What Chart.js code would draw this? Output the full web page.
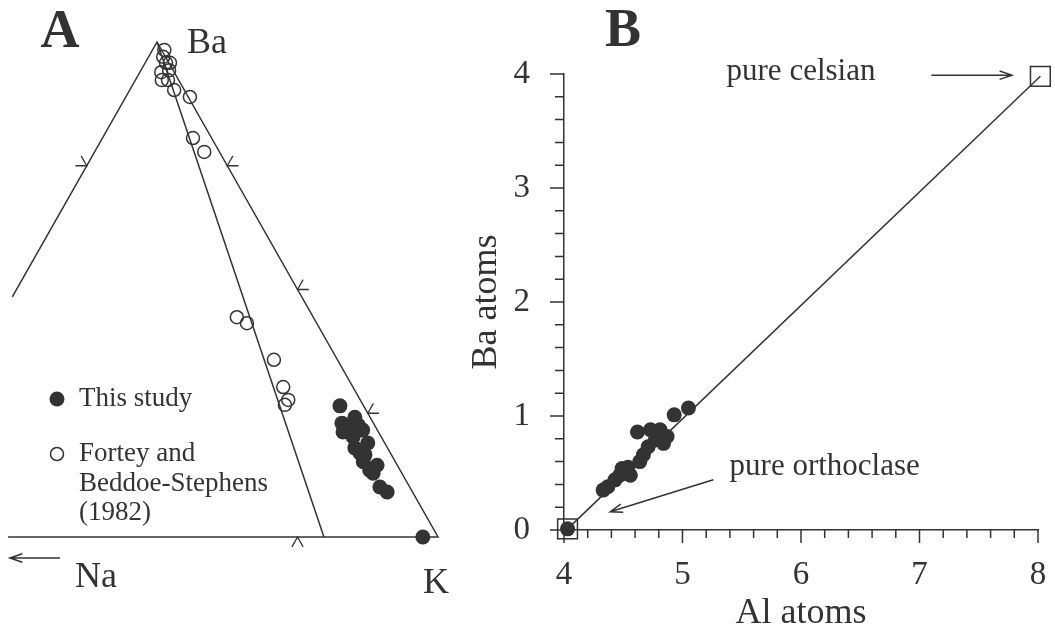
<!DOCTYPE html>
<html>
<head>
<meta charset="utf-8">
<script src="https://cdn.jsdelivr.net/npm/chart.js@4.4.0/dist/chart.umd.min.js"></script>
<style>
  body { margin: 0; background: #fff; }
  #wrap { position: relative; width: 1055px; height: 630px; }
  #canvasA { position: absolute; left: 0; top: 0; }
  #canvasB { position: absolute; left: 460px; top: 0; }
</style>
</head>
<body>
<div id="wrap">
  <canvas id="canvasA" width="460" height="630"></canvas>
  <canvas id="canvasB" width="595" height="630"></canvas>
</div>
<script>
const INK = '#333'
const SERIF = 'Liberation Serif'

// ---- panel A: Ba - Na - K triangle, mole fractions of Ba and K (Na is the rest)
const thisStudyBa = [0.265, 0.242, 0.230, 0.220, 0.216, 0.212, 0.202, 0.190, 0.180, 0.170, 0.152, 0.145, 0.135, 0.129, 0.101, 0.091, 0, 0.226, 0.166]
const thisStudyK  = [0.693, 0.731, 0.714, 0.730, 0.758, 0.725, 0.748, 0.780, 0.762, 0.776, 0.791, 0.819, 0.811, 0.820, 0.846, 0.864, 0.973, 0.745, 0.787]
const forteyBa = [0.984, 0.970, 0.958, 0.943, 0.923, 0.923, 0.903, 0.889, 0.806, 0.778, 0.444, 0.432, 0.358, 0.303, 0.277, 0.267, 0.939, 0.958]
const forteyK  = [0.021, 0.026, 0.037, 0.050, 0.047, 0.058, 0.079, 0.114, 0.161, 0.195, 0.420, 0.444, 0.529, 0.573, 0.595, 0.594, 0.038, 0.044]
// visible part of the triangle outline, and the line from Ba to the base
const outlineBa = [0.485, 1, 0, 0]
const outlineK  = [0, 0, 1, 0.235]
const joinBa = [1, 0]
const joinK  = [0, 0.797]
// tick marks on the edges
const tickBa = [0.75, 0.75, 0.5, 0.25, 0]
const tickK  = [0, 0.25, 0.5, 0.75, 0.75]

// ---- panel B
const alAtoms = [4.03, 4.33, 4.37, 4.43, 4.47, 4.49, 4.54, 4.56, 4.51, 4.64, 4.67, 4.71, 4.62, 4.73, 4.77, 4.81, 4.87, 4.84, 4.93, 5.05]
const baAtoms = [0.01, 0.35, 0.38, 0.44, 0.48, 0.54, 0.55, 0.48, 0.50, 0.60, 0.66, 0.73, 0.86, 0.88, 0.79, 0.88, 0.82, 0.76, 1.01, 1.07]
const endAl = [4.03, 8.02]   // pure orthoclase, pure celsian
const endBa = [0.01, 3.98]
const noteText = ['pure celsian', 'pure orthoclase']
const noteX = [6.0, 6.2]
const noteY = [3.95, 0.48]
const arrowFrom = [[7.1, 3.99], [5.26, 0.44]]
const arrowTo   = [[7.78, 3.99], [4.39, 0.16]]

const SQ = Math.sqrt(3) / 2
const tern = (ba, k) => ({x: k + ba / 2, y: ba * SQ})
const zip = (a, b, f) => a.map((v, i) => f(v, b[i]))

// each tick = two short strokes going out of the triangle, parallel to the other two edges
const TICK = 0.02
let tickPts = []
tickBa.forEach((ba, i) => {
  const c = [ba, tickK[i], 1 - ba - tickK[i]]
  const zero = c.findIndex(v => Math.abs(v) < 1e-9)
  const ends = [0, 1, 2].filter(j => j !== zero).map(j => {
    const e = c.slice()
    e[zero] -= TICK
    e[j] += TICK
    return tern(e[0], e[1])
  })
  tickPts.push(ends[0], tern(c[0], c[1]), ends[1], {x: NaN, y: NaN})
})

function arrow(ctx, x1, y1, x2, y2) {
  const a = Math.atan2(y2 - y1, x2 - x1), h = 13
  ctx.beginPath()
  ctx.moveTo(x1, y1)
  ctx.lineTo(x2, y2)
  ctx.moveTo(x2 - h * Math.cos(a - 0.33), y2 - h * Math.sin(a - 0.33))
  ctx.lineTo(x2, y2)
  ctx.lineTo(x2 - h * Math.cos(a + 0.33), y2 - h * Math.sin(a + 0.33))
  ctx.stroke()
}

const panelAText = {
  id: 'panelAText',
  afterDraw(chart) {
    const {ctx, scales: {x, y}} = chart
    const apex = tern(1, 0), kv = tern(0, 1)
    ctx.save()
    ctx.fillStyle = INK
    ctx.strokeStyle = INK
    ctx.lineWidth = 1.5
    ctx.textBaseline = 'alphabetic'
    ctx.textAlign = 'center'
    ctx.font = 'bold 54px "' + SERIF + '"'
    ctx.fillText('A', 60, 47)
    ctx.textAlign = 'left'
    ctx.font = '36px "' + SERIF + '"'
    ctx.fillText('Ba', x.getPixelForValue(apex.x) + 30, y.getPixelForValue(apex.y) + 11)
    ctx.fillText('K', x.getPixelForValue(kv.x) - 15, y.getPixelForValue(kv.y) + 56)
    ctx.fillText('Na', 75, 587)
    arrow(ctx, 60, 558, 10, 558)

    // legend
    ctx.beginPath()
    ctx.arc(57, 399, 7.5, 0, Math.PI * 2)
    ctx.fill()
    ctx.beginPath()
    ctx.arc(57, 454, 6.5, 0, Math.PI * 2)
    ctx.stroke()
    ctx.font = '27px "' + SERIF + '"'
    ctx.fillText('This study', 79, 406)
    ctx.fillText('Fortey and', 79, 461)
    ctx.fillText('Beddoe-Stephens', 79, 491)
    ctx.fillText('(1982)', 79, 520)
    ctx.restore()
  }
}

new Chart(document.getElementById('canvasA'), {
  type: 'scatter',
  data: {
    datasets: [{
      label: 'This study',
      data: zip(thisStudyBa, thisStudyK, tern),
      pointRadius: 7.5,
      backgroundColor: INK,
      borderWidth: 0,
      clip: false
    }, {
      label: 'Fortey and Beddoe-Stephens (1982)',
      data: zip(forteyBa, forteyK, tern),
      pointRadius: 6.5,
      borderColor: INK,
      borderWidth: 1.5,
      backgroundColor: 'rgba(0,0,0,0)',
      clip: false
    }, {
      data: tickPts,
      showLine: true,
      spanGaps: false,
      pointRadius: 0,
      borderColor: INK,
      borderWidth: 1.3
    }, {
      data: zip(joinBa, joinK, tern),
      showLine: true,
      pointRadius: 0,
      borderColor: INK,
      borderWidth: 1.5
    }, {
      data: zip(outlineBa, outlineK, tern),
      showLine: true,
      pointRadius: 0,
      borderColor: INK,
      borderWidth: 1.5
    }]
  },
  options: {
    responsive: false,
    animation: false,
    events: [],
    layout: {padding: 0, autoPadding: false},
    plugins: {legend: {display: false}, tooltip: {enabled: false}},
    scales: {
      x: {type: 'linear', display: false, min: 0.2206, max: 1.0391},
      y: {type: 'linear', display: false, min: -0.1627, max: 0.9395}
    }
  },
  plugins: [panelAText]
})

const whole = v => Math.abs(v - Math.round(v)) < 1e-9

// major / minor tick marks on both axes
const axisTicks = {
  id: 'axisTicks',
  afterDraw(chart) {
    const {ctx, chartArea, scales: {x, y}} = chart
    ctx.save()
    ctx.strokeStyle = INK
    ctx.lineWidth = 1.5
    ctx.beginPath()
    x.ticks.forEach(t => {
      const px = x.getPixelForValue(t.value)
      ctx.moveTo(px, chartArea.bottom)
      ctx.lineTo(px, chartArea.bottom + (whole(t.value) ? 13 : 8))
    })
    y.ticks.forEach(t => {
      const py = y.getPixelForValue(t.value)
      ctx.moveTo(chartArea.left, py)
      ctx.lineTo(chartArea.left - (whole(t.value) ? 14 : 9), py)
    })
    // x axis runs a little past the y axis
    ctx.moveTo(chartArea.left, chartArea.bottom)
    ctx.lineTo(chartArea.left - 7, chartArea.bottom)
    ctx.stroke()
    ctx.restore()
  }
}

const panelBText = {
  id: 'panelBText',
  afterDraw(chart) {
    const {ctx, scales: {x, y}} = chart
    ctx.save()
    ctx.fillStyle = INK
    ctx.strokeStyle = INK
    ctx.lineWidth = 1.5
    ctx.textBaseline = 'alphabetic'
    ctx.textAlign = 'center'
    ctx.font = 'bold 54px "' + SERIF + '"'
    ctx.fillText('B', 163, 46)
    ctx.font = '31px "' + SERIF + '"'
    noteText.forEach((t, i) => {
      ctx.fillText(t, x.getPixelForValue(noteX[i]), y.getPixelForValue(noteY[i]))
    })
    arrowFrom.forEach((f, i) => {
      const to = arrowTo[i]
      arrow(ctx, x.getPixelForValue(f[0]), y.getPixelForValue(f[1]),
        x.getPixelForValue(to[0]), y.getPixelForValue(to[1]))
    })
    ctx.restore()
  }
}

new Chart(document.getElementById('canvasB'), {
  type: 'scatter',
  data: {
    datasets: [{
      label: 'This study',
      data: zip(alAtoms, baAtoms, (x, y) => ({x, y})),
      pointRadius: 7.5,
      backgroundColor: INK,
      borderWidth: 0,
      clip: false
    }, {
      label: 'end members',
      data: zip(endAl, endBa, (x, y) => ({x, y})),
      showLine: true,
      borderColor: INK,
      borderWidth: 1.5,
      pointStyle: 'rect',
      pointRadius: 14,
      pointBorderWidth: 1.5,
      pointBorderColor: INK,
      pointBackgroundColor: 'rgba(0,0,0,0)',
      clip: false
    }]
  },
  options: {
    responsive: false,
    animation: false,
    events: [],
    layout: {padding: {top: 74, right: 17, left: 0, bottom: 0}, autoPadding: false},
    plugins: {legend: {display: false}, tooltip: {enabled: false}},
    scales: {
      x: {
        type: 'linear',
        min: 4,
        max: 8,
        afterFit: s => {
          s.height = 100
          s.paddingLeft = 0
          s.paddingRight = 0
        },
        grid: {display: false, drawTicks: false},
        border: {display: true, color: INK, width: 1.5},
        ticks: {
          stepSize: 0.2,
          maxTicksLimit: 100,
          autoSkip: false,
          maxRotation: 0,
          padding: 26,
          color: INK,
          font: {family: SERIF, size: 33},
          callback: v => whole(v) ? Math.round(v) : ''
        },
        title: {display: true, text: 'Al atoms', color: INK, padding: 0,
          font: {family: SERIF, size: 36, lineHeight: 0.9}}
      },
      y: {
        type: 'linear',
        min: 0,
        max: 4,
        afterFit: s => { s.width = 104 },
        grid: {display: false, drawTicks: false},
        border: {display: true, color: INK, width: 1.5},
        ticks: {
          stepSize: 0.2,
          maxTicksLimit: 100,
          autoSkip: false,
          padding: 34,
          color: INK,
          font: {family: SERIF, size: 33},
          callback: v => whole(v) ? Math.round(v) : ''
        },
        title: {display: true, text: 'Ba atoms', color: INK, padding: {top: 4.5, bottom: 0},
          font: {family: SERIF, size: 36, lineHeight: 1.2}}
      }
    }
  },
  plugins: [axisTicks, panelBText]
})
</script>
</body>
</html>
